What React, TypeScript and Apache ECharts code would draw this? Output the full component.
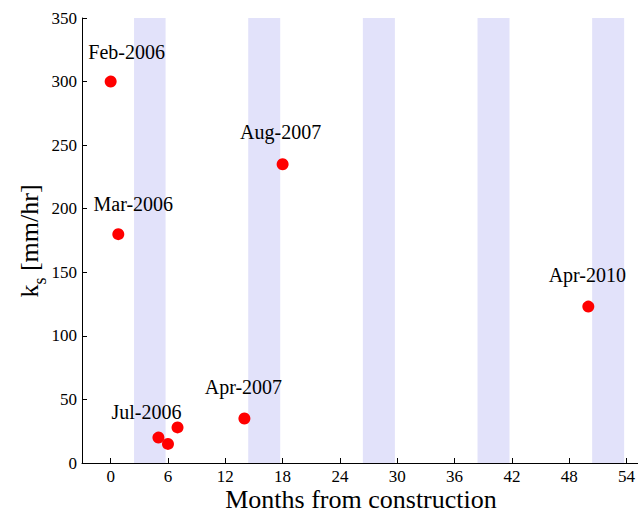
import React, { useEffect, useRef } from "react";
import * as echarts from "echarts";

const months = [0, 0.8, 5, 6, 7, 14, 18, 50];
const ks = [300, 180, 20, 15, 28, 35, 235, 123];
const pointLabels = ["Feb-2006", "Mar-2006", "Jul-2006", "", "", "Apr-2007", "Aug-2007", "Apr-2010"];
const bandStarts = [2.45, 14.4, 26.4, 38.4, 50.4];
const bandEnds = [5.75, 17.75, 29.75, 41.75, 53.75];
const xTicks = [0, 6, 12, 18, 24, 30, 36, 42, 48, 54];
const xTitle = "Months from construction";

const labelOffsets: number[][] = [[16, -30], [15, -30], [-12, -26], [0, 0], [0, 0], [-1, -32], [-2, -32], [-1, -32]];

const FONT = "Liberation Serif, serif";

export default function App() {
  const ref = useRef<HTMLDivElement>(null);
  useEffect(() => {
    if (!ref.current) return;
    const chart = echarts.init(ref.current, null, { renderer: "svg" });
    const data = months.map((m, i) => ({
      value: [m, ks[i]],
      label: {
        show: pointLabels[i] !== "",
        formatter: pointLabels[i],
        position: "inside",
        offset: labelOffsets[i],
        color: "#000",
        fontFamily: FONT,
        fontSize: 20,
      },
    }));
    const tickLabel = { fontFamily: FONT, fontSize: 17, color: "#000" };
    chart.setOption({
      animation: false,
      backgroundColor: "#fff",
      textStyle: { fontFamily: FONT },
      grid: { left: 82, right: 0, top: 18, bottom: 48, containLabel: false, outerBoundsMode: "none" },
      graphic: [
        {
          type: "text",
          x: 361,
          y: 499,
          style: { text: xTitle, fontFamily: FONT, fontSize: 26, lineHeight: 24, fill: "#000", align: "center", verticalAlign: "middle" },
        },
        {
          type: "text",
          x: 29,
          y: 241,
          rotation: Math.PI / 2,
          style: {
            text: "{k|k}{s|s}{k| [mm/hr]}",
            align: "center",
            verticalAlign: "middle",
            fontFamily: FONT,
            fontSize: 26,
            fill: "#000",
            rich: {
              k: { fontFamily: FONT, fontSize: 26, fill: "#000", lineHeight: 40, verticalAlign: "middle" },
              s: { fontFamily: FONT, fontSize: 18, fill: "#000", lineHeight: 40, verticalAlign: "bottom" },
            },
          },
        },
      ],
      xAxis: {
        type: "value",
        min: -3,
        max: 55.2,
        axisLine: { show: true, onZero: false, lineStyle: { color: "#000", width: 1 } },
        axisTick: { show: true, inside: true, length: 5, customValues: xTicks, lineStyle: { color: "#000" } },
        axisLabel: { ...tickLabel, customValues: xTicks, margin: 6, lineHeight: 14 },
        splitLine: { show: false },
      },
      yAxis: {
        type: "value",
        min: 0,
        max: 350,
        interval: 50,
        axisLine: { show: true, onZero: false, lineStyle: { color: "#000", width: 1 } },
        axisTick: { show: true, inside: true, length: 5, lineStyle: { color: "#000" } },
        axisLabel: { ...tickLabel, margin: 5 },
        splitLine: { show: false },
      },
      series: [
        {
          type: "scatter",
          symbol: "circle",
          symbolSize: 12,
          itemStyle: { color: "#ff0000", opacity: 1 },
          data,
          z: 3,
          markArea: {
            silent: true,
            itemStyle: { color: "#e2e2fa", opacity: 1 },
            data: bandStarts.map((s, i) => [{ xAxis: s }, { xAxis: bandEnds[i] }]),
          },
        },
      ],
    });
    return () => chart.dispose();
  }, []);
  return <div ref={ref} style={{ width: 638, height: 511, position: "absolute", left: 0, top: 0 }} />;
}
